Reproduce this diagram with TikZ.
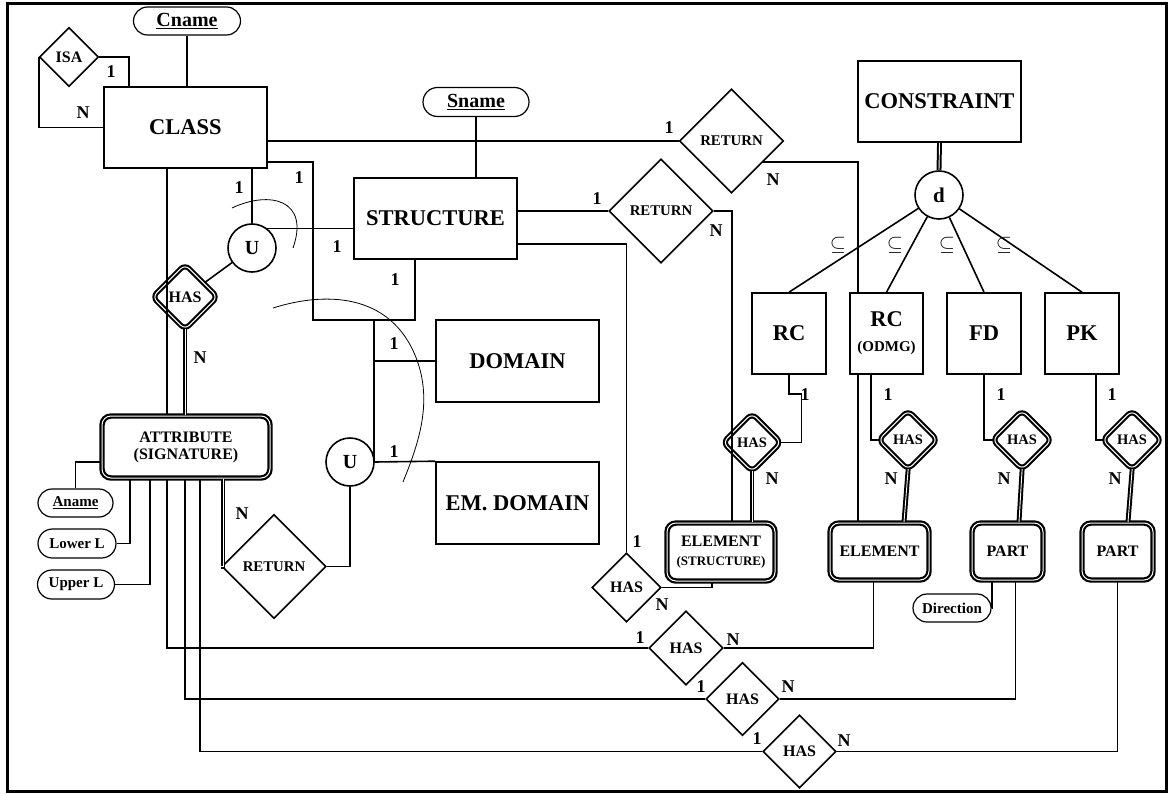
\documentclass[tikz,border=0pt]{standalone}
\usepackage{fontspec}
\setmainfont{Liberation Serif}
\usetikzlibrary{shapes.geometric,shapes.misc}

\begin{document}
\begin{tikzpicture}[x=1pt,y=-1pt,line width=1.6pt,
  ent/.style={rectangle,draw,fill=white,inner sep=0pt,align=center,font=\fontsize{22.5}{24}\selectfont\bfseries},
  weakent/.style={rectangle,draw,fill=white,double,double distance=1pt,line width=2.2pt,rounded corners=9pt,inner sep=0pt,align=center,font=\fontsize{16}{17}\selectfont\bfseries},
  rel/.style={diamond,draw,aspect=1,inner sep=0pt,font=\fontsize{16}{17}\selectfont\bfseries},
  retrel/.style={rel,minimum size=104,font=\fontsize{14.8}{15}\selectfont\bfseries},
  weakrel/.style={diamond,draw,aspect=1,double,double distance=1pt,line width=2.1pt,rounded corners=6pt,inner sep=0pt,font=\fontsize{14.5}{15}\selectfont\bfseries},
  att/.style={rounded rectangle,draw,line width=1.2pt,inner sep=0pt,font=\fontsize{15}{16}\selectfont\bfseries},
  keyatt/.style={att,font=\fontsize{20}{22}\selectfont\bfseries},
  junc/.style={circle,draw,minimum size=48,inner sep=0pt,font=\fontsize{20}{21}\selectfont\bfseries},
  card/.style={inner sep=0pt,font=\fontsize{18}{19}\selectfont\bfseries},
  sub/.style={inner sep=0pt,font=\fontsize{20}{21}\selectfont},
  idline/.style={double,double distance=0.9pt,line width=2pt},
  arcline/.style={line width=0.8pt}]
\useasboundingbox (0,0) rectangle (1174,794);
\draw[line width=3pt] (7,4) rectangle (1166,791);

\node (cname) at (187,21) [keyatt,minimum width=107,minimum height=28] {\underline{Cname}};
\node (isa) at (69,57) [rel,minimum size=59] {ISA};
\node (class) at (185.5,127.5) [ent,minimum width=163,minimum height=81] {CLASS};
\node (sname) at (476,102) [keyatt,minimum width=106,minimum height=29] {\underline{Sname}};
\node (structure) at (435.5,218.5) [ent,minimum width=163,minimum height=81] {STRUCTURE};
\node (ret1) at (731.5,141) [retrel] {RETURN};
\node (ret2) at (661,211) [retrel] {RETURN};
\node (constraint) at (939.5,101.5) [ent,minimum width=163,minimum height=81] {CONSTRAINT};
\node (dnode) at (939,195) [junc,font=\fontsize{21}{22}\selectfont\bfseries] {d};
\node (rc) at (789,333.5) [ent,minimum width=74,minimum height=81] {RC};
\node (rcodmg) at (886.5,333.5) [ent,minimum width=73,minimum height=81] {RC\\[1pt]{\fontsize{15}{16}\selectfont (ODMG)}};
\node (fd) at (984,333.5) [ent,minimum width=74,minimum height=81] {FD};
\node (pk) at (1082,333.5) [ent,minimum width=74,minimum height=81] {PK};
\node (u1) at (252,248) [junc] {U};
\node (hasl) at (185,297) [weakrel,minimum size=66,font=\fontsize{16}{17}\selectfont\bfseries] {HAS};
\node (domain) at (517.5,361) [ent,minimum width=163,minimum height=82] {DOMAIN};
\node (emdomain) at (517.5,503) [ent,minimum width=163,minimum height=82] {EM. DOMAIN};
\node (u2) at (350,462) [junc] {U};
\node (attr) at (186,447) [weakent,minimum width=168,minimum height=62] {ATTRIBUTE\\(SIGNATURE)};
\node (aname) at (75.5,503) [att,minimum width=75,minimum height=28] {\underline{Aname}};
\node (lowerl) at (77,543.5) [att,minimum width=78,minimum height=29] {Lower L};
\node (upperl) at (76,584.5) [att,minimum width=77,minimum height=29] {Upper L};
\node (ret3) at (274,566.5) [retrel] {RETURN};
\node (hasw1) at (752,442.5) [weakrel,minimum size=59] {HAS};
\node (hasw2) at (908,440) [weakrel,minimum size=60] {HAS};
\node (hasw3) at (1022,440) [weakrel,minimum size=60] {HAS};
\node (hasw4) at (1132,440) [weakrel,minimum size=60] {HAS};
\node (elemstr) at (721,552) [weakent,minimum width=108,minimum height=58] {ELEMENT\\[2pt]{\fontsize{13}{14}\selectfont (STRUCTURE)}};
\node (elem) at (879.5,551.5) [weakent,minimum width=99,minimum height=57] {ELEMENT};
\node (part1) at (1007.5,551.5) [weakent,minimum width=71,minimum height=57] {PART};
\node (part2) at (1117.5,551.5) [weakent,minimum width=71,minimum height=57] {PART};
\node (direction) at (952,608) [att,minimum width=78,minimum height=28] {Direction};
\node (hass) at (626.5,587.5) [rel,minimum size=69] {HAS};
\node (hasb1) at (686,648) [rel,minimum size=74] {HAS};
\node (hasb2) at (742.5,699) [rel,minimum size=73] {HAS};
\node (hasb3) at (799.5,751.5) [rel,minimum size=73] {HAS};
\coordinate (bend) at (313,320);
\coordinate (tap) at (374,320);

\draw (cname.south) -- (cname.south |- class.north);
\draw (isa.east) -| ([xshift=26pt]class.north west);
\draw (isa.west) |- (class.west);
\draw (sname.south) -- (sname.south |- structure.north);
\draw (ret1.west) -- (ret1.west -| class.east);
\draw (ret1.-34) -| ([xshift=-28.5pt]rcodmg.north);
\draw ([xshift=-28.5pt]rcodmg.south) -- ([xshift=-21.5pt]elem.north);
\draw (ret2.west) -- (ret2.west -| structure.east);
\draw (ret2.east) -| ([xshift=11pt]elemstr.north);
\draw ([yshift=-25.5pt]structure.east) -| (hass.north);
\draw (hass.east) -| ([xshift=-9pt]elemstr.south);
\draw[idline,shorten <=-2pt] (hasw1.south) -- (hasw1.south |- elemstr.north);
\draw[shorten >=-2pt] (rc.south) -- ++(0,19) -| ([xshift=19pt]hasw1.east) -- (hasw1.east);
\draw[shorten >=-2pt] ([xshift=-15.5pt]rcodmg.south) |- (hasw2.west);
\draw[idline,shorten <=-2pt] (hasw2.south) -- ([xshift=24.5pt]elem.north);
\draw[shorten >=-2pt] (fd.south) |- (hasw3.west);
\draw[idline,shorten <=-2pt] (hasw3.south) -- ([xshift=11.5pt]part1.north);
\draw[shorten >=-2pt] ([xshift=14pt]pk.south) |- (hasw4.west);
\draw[idline,shorten <=-2pt] (hasw4.south) -- ([xshift=10.5pt]part2.north);
\draw ([xshift=-15.5pt]part1.south) |- (direction.east);
\draw[idline] (constraint.south) -- (dnode.north);
\draw (dnode) -- (rc.north);
\draw (dnode) -- (rcodmg.north);
\draw (dnode) -- (fd.north);
\draw (dnode) -- (pk.north);
\draw ([xshift=66.5pt]class.south) -- (u1);
\draw (u1.52) -- (u1.52 -| structure.west);
\draw (u1) -- (hasl);
\draw[idline,shorten <=-2pt] (hasl.south) -- (hasl.south |- attr.north);
\draw ([xshift=-18.5pt]class.south) -- ([xshift=-19pt]attr.north);
\draw ([yshift=-34.5pt]class.east) -| (bend) -| ([xshift=-20.5pt]structure.south);
\draw (tap) |- (u2.east);
\draw (domain.west) -- (domain.west -| tap);
\draw (u2.east) -- (emdomain.north west);
\draw ([yshift=-15pt]attr.west) -| (aname.north);
\draw ([xshift=-56pt]attr.south) |- (lowerl.east);
\draw ([xshift=-36pt]attr.south) |- (upperl.east);
\draw[idline] ([xshift=37pt]attr.south) |- (ret3.west);
\draw (ret3.east) -| (u2.south);
\draw ([xshift=-19pt]attr.south) |- (hasb1.west);
\draw ([xshift=-1pt]attr.south) |- (hasb2.west);
\draw ([xshift=14pt]attr.south) |- (hasb3.west);
\draw (hasb1.east) -| ([xshift=-6pt]elem.south);
\draw (hasb2.east) -| ([xshift=8pt]part1.south);
\draw (hasb3.east) -| (part2.south);
\draw[arcline] (232,208) .. controls (270,190) and (310,200) .. (293,248);
\draw[arcline] (273,308) .. controls (330,290) and (395,295) .. (418,363) .. controls (432,405) and (418,445) .. (403,482);

\node (k1) at (111,72) [card] {1};
\node (k2) at (83,113) [card] {N};
\node (k3) at (669,128) [card] {1};
\node (k4) at (773,180) [card] {N};
\node (k5) at (597,199) [card] {1};
\node (k6) at (716,231) [card] {N};
\node (k7) at (239,188) [card] {1};
\node (k8) at (299,178) [card] {1};
\node (k9) at (337,247) [card] {1};
\node (k10) at (395,280) [card] {1};
\node (k11) at (394,344) [card] {1};
\node (k12) at (394,452) [card] {1};
\node (k13) at (200,358) [card] {N};
\node (k14) at (242,514) [card] {N};
\node (k15) at (637,542) [card] {1};
\node (k16) at (662,605) [card] {N};
\node (k17) at (772,479) [card] {N};
\node (k18) at (805,395) [card] {1};
\node (k19) at (888,395) [card] {1};
\node (k20) at (891,479) [card] {N};
\node (k21) at (1001,395) [card] {1};
\node (k22) at (1004,479) [card] {N};
\node (k23) at (1112,395) [card] {1};
\node (k24) at (1115,479) [card] {N};
\node (k25) at (640,638) [card] {1};
\node (k26) at (733,640) [card] {N};
\node (k27) at (701,687) [card] {1};
\node (k28) at (788,687) [card] {N};
\node (k29) at (757,739) [card] {1};
\node (k30) at (844,741) [card] {N};
\node (s1) at (838,245) [sub] {$\subseteq$};
\node (s2) at (895,245) [sub] {$\subseteq$};
\node (s3) at (947,245) [sub] {$\subseteq$};
\node (s4) at (1004,245) [sub] {$\subseteq$};
\end{tikzpicture}
\end{document}
